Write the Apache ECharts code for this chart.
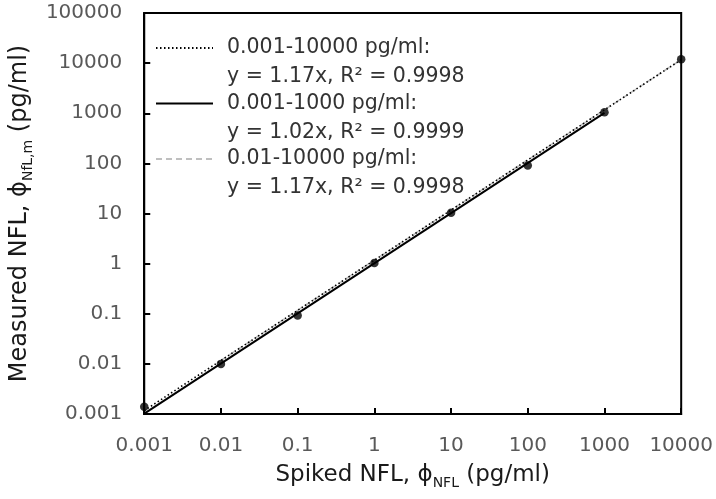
<!DOCTYPE html>
<html>
<head>
<meta charset="utf-8">
<script src="https://cdn.jsdelivr.net/npm/echarts@6/dist/echarts.min.js"></script>
<style>
html,body{margin:0;padding:0;background:#fff;}
#chart{width:716px;height:499px;}
</style>
</head>
<body>
<div id="chart"></div>
<script>
// Tick labels
var xTickLabels = ['0.001', '0.01', '0.1', '1', '10', '100', '1000', '10000'];
var yTickLabels = ['0.001', '0.01', '0.1', '1', '10', '100', '1000', '10000', '100000'];

// Measured points
var spiked = [0.001, 0.01, 0.1, 1, 10, 100, 1000, 10000];
var measured = [0.0014, 0.01, 0.092, 1.03, 10.3, 91, 1050, 12000];

// Fit lines (endpoints from the equations shown in the legend)
var fitNames = ['0.001-10000 pg/ml:', '0.001-1000 pg/ml:', '0.01-10000 pg/ml:'];
var fitEquations = ['y = 1.17x, R\u00b2 = 0.9998', 'y = 1.02x, R\u00b2 = 0.9999', 'y = 1.17x, R\u00b2 = 0.9998'];
var fit1X = [0.001, 10000];
var fit1Y = [0.00117, 11700];
var fit2X = [0.001, 1000];
var fit2Y = [0.00102, 1020];
var fit3X = [0.01, 10000];
var fit3Y = [0.0117, 11700];

function pairs(xs, ys) {
  return xs.map(function (x, i) { return [x, ys[i]]; });
}

var FONT = 'DejaVu Sans';
var chart = echarts.init(document.getElementById('chart'));

function tickFmt(labels, min) {
  return function (v) {
    var i = Math.round(Math.log10(v) - Math.log10(min));
    return labels[i] !== undefined ? labels[i] : '';
  };
}

chart.setOption({
  animation: false,
  backgroundColor: '#fff',
  textStyle: { fontFamily: FONT },
  grid: {
    left: 142, right: 33, top: 13, bottom: 85,
    show: true, borderColor: '#000', borderWidth: 2
  },
  legend: {
    data: fitNames,
    orient: 'vertical',
    left: 155,
    top: 4.5,
    padding: 0,
    itemWidth: 57,
    itemHeight: 14,
    itemGap: -31.5,
    selectedMode: false,
    itemStyle: { opacity: 0 },
    formatter: function (name) {
      return ' \n' + name + '\n' + fitEquations[fitNames.indexOf(name)];
    },
    textStyle: {
      fontFamily: FONT,
      fontSize: 20.5,
      lineHeight: 29,
      color: '#333333',
      padding: [0, 0, 0, 9]
    }
  },
  xAxis: {
    type: 'log',
    logBase: 10,
    min: 0.001,
    max: 10000,
    interval: 1,
    splitNumber: 7,
    name: '{t|Spiked NFL, \u03d5}{s|NFL}{t| (pg/ml)}',
    nameLocation: 'middle',
    nameGap: 46,
    nameTextStyle: {
      rich: {
        t: { fontFamily: FONT, fontSize: 23, color: '#1a1a1a', lineHeight: 30 },
        s: { fontFamily: FONT, fontSize: 14, color: '#1a1a1a', lineHeight: 14, verticalAlign: 'bottom' }
      }
    },
    axisLine: { lineStyle: { color: '#000', width: 2 } },
    axisTick: { inside: true, length: 6, lineStyle: { color: '#000', width: 2 } },
    axisLabel: {
      margin: 22,
      fontFamily: FONT,
      fontSize: 20,
      color: '#595959',
      formatter: tickFmt(xTickLabels, 0.001)
    },
    splitLine: { show: false },
    minorTick: { show: false }
  },
  yAxis: {
    type: 'log',
    logBase: 10,
    min: 0.001,
    max: 100000,
    interval: 1,
    splitNumber: 8,
    name: '{t|Measured NFL, \u03d5}{s|NfL,m}{t| (pg/ml)}',
    nameLocation: 'middle',
    nameRotate: 90,
    nameGap: 108,
    nameTextStyle: {
      rich: {
        t: { fontFamily: FONT, fontSize: 24, color: '#1a1a1a', lineHeight: 30 },
        s: { fontFamily: FONT, fontSize: 14, color: '#1a1a1a', lineHeight: 14, verticalAlign: 'bottom' }
      }
    },
    axisLine: { lineStyle: { color: '#000', width: 2 } },
    axisTick: { inside: true, length: 6, lineStyle: { color: '#000', width: 2 } },
    axisLabel: {
      margin: 22,
      fontFamily: FONT,
      fontSize: 20,
      color: '#595959',
      formatter: tickFmt(yTickLabels, 0.001)
    },
    splitLine: { show: false },
    minorTick: { show: false }
  },
  series: [
    {
      name: fitNames[0],
      type: 'line',
      data: pairs(fit1X, fit1Y),
      symbol: 'none',
      z: 4,
      lineStyle: { color: '#000', width: 1.6, type: [1.5, 2.5] },
      itemStyle: { color: '#000' }
    },
    {
      name: fitNames[1],
      type: 'line',
      data: pairs(fit2X, fit2Y),
      symbol: 'none',
      z: 5,
      lineStyle: { color: '#000', width: 2, type: 'solid' },
      itemStyle: { color: '#000' }
    },
    {
      name: fitNames[2],
      type: 'line',
      data: pairs(fit3X, fit3Y),
      symbol: 'none',
      z: 3,
      lineStyle: { color: '#bfbfbf', width: 1.6, type: [6, 4] },
      itemStyle: { color: '#bfbfbf' }
    },
    {
      name: 'Measured',
      type: 'scatter',
      data: pairs(spiked, measured),
      symbol: 'circle',
      symbolSize: 8.5,
      z: 6,
      itemStyle: { color: '#000' }
    }
  ]
});
</script>
</body>
</html>
